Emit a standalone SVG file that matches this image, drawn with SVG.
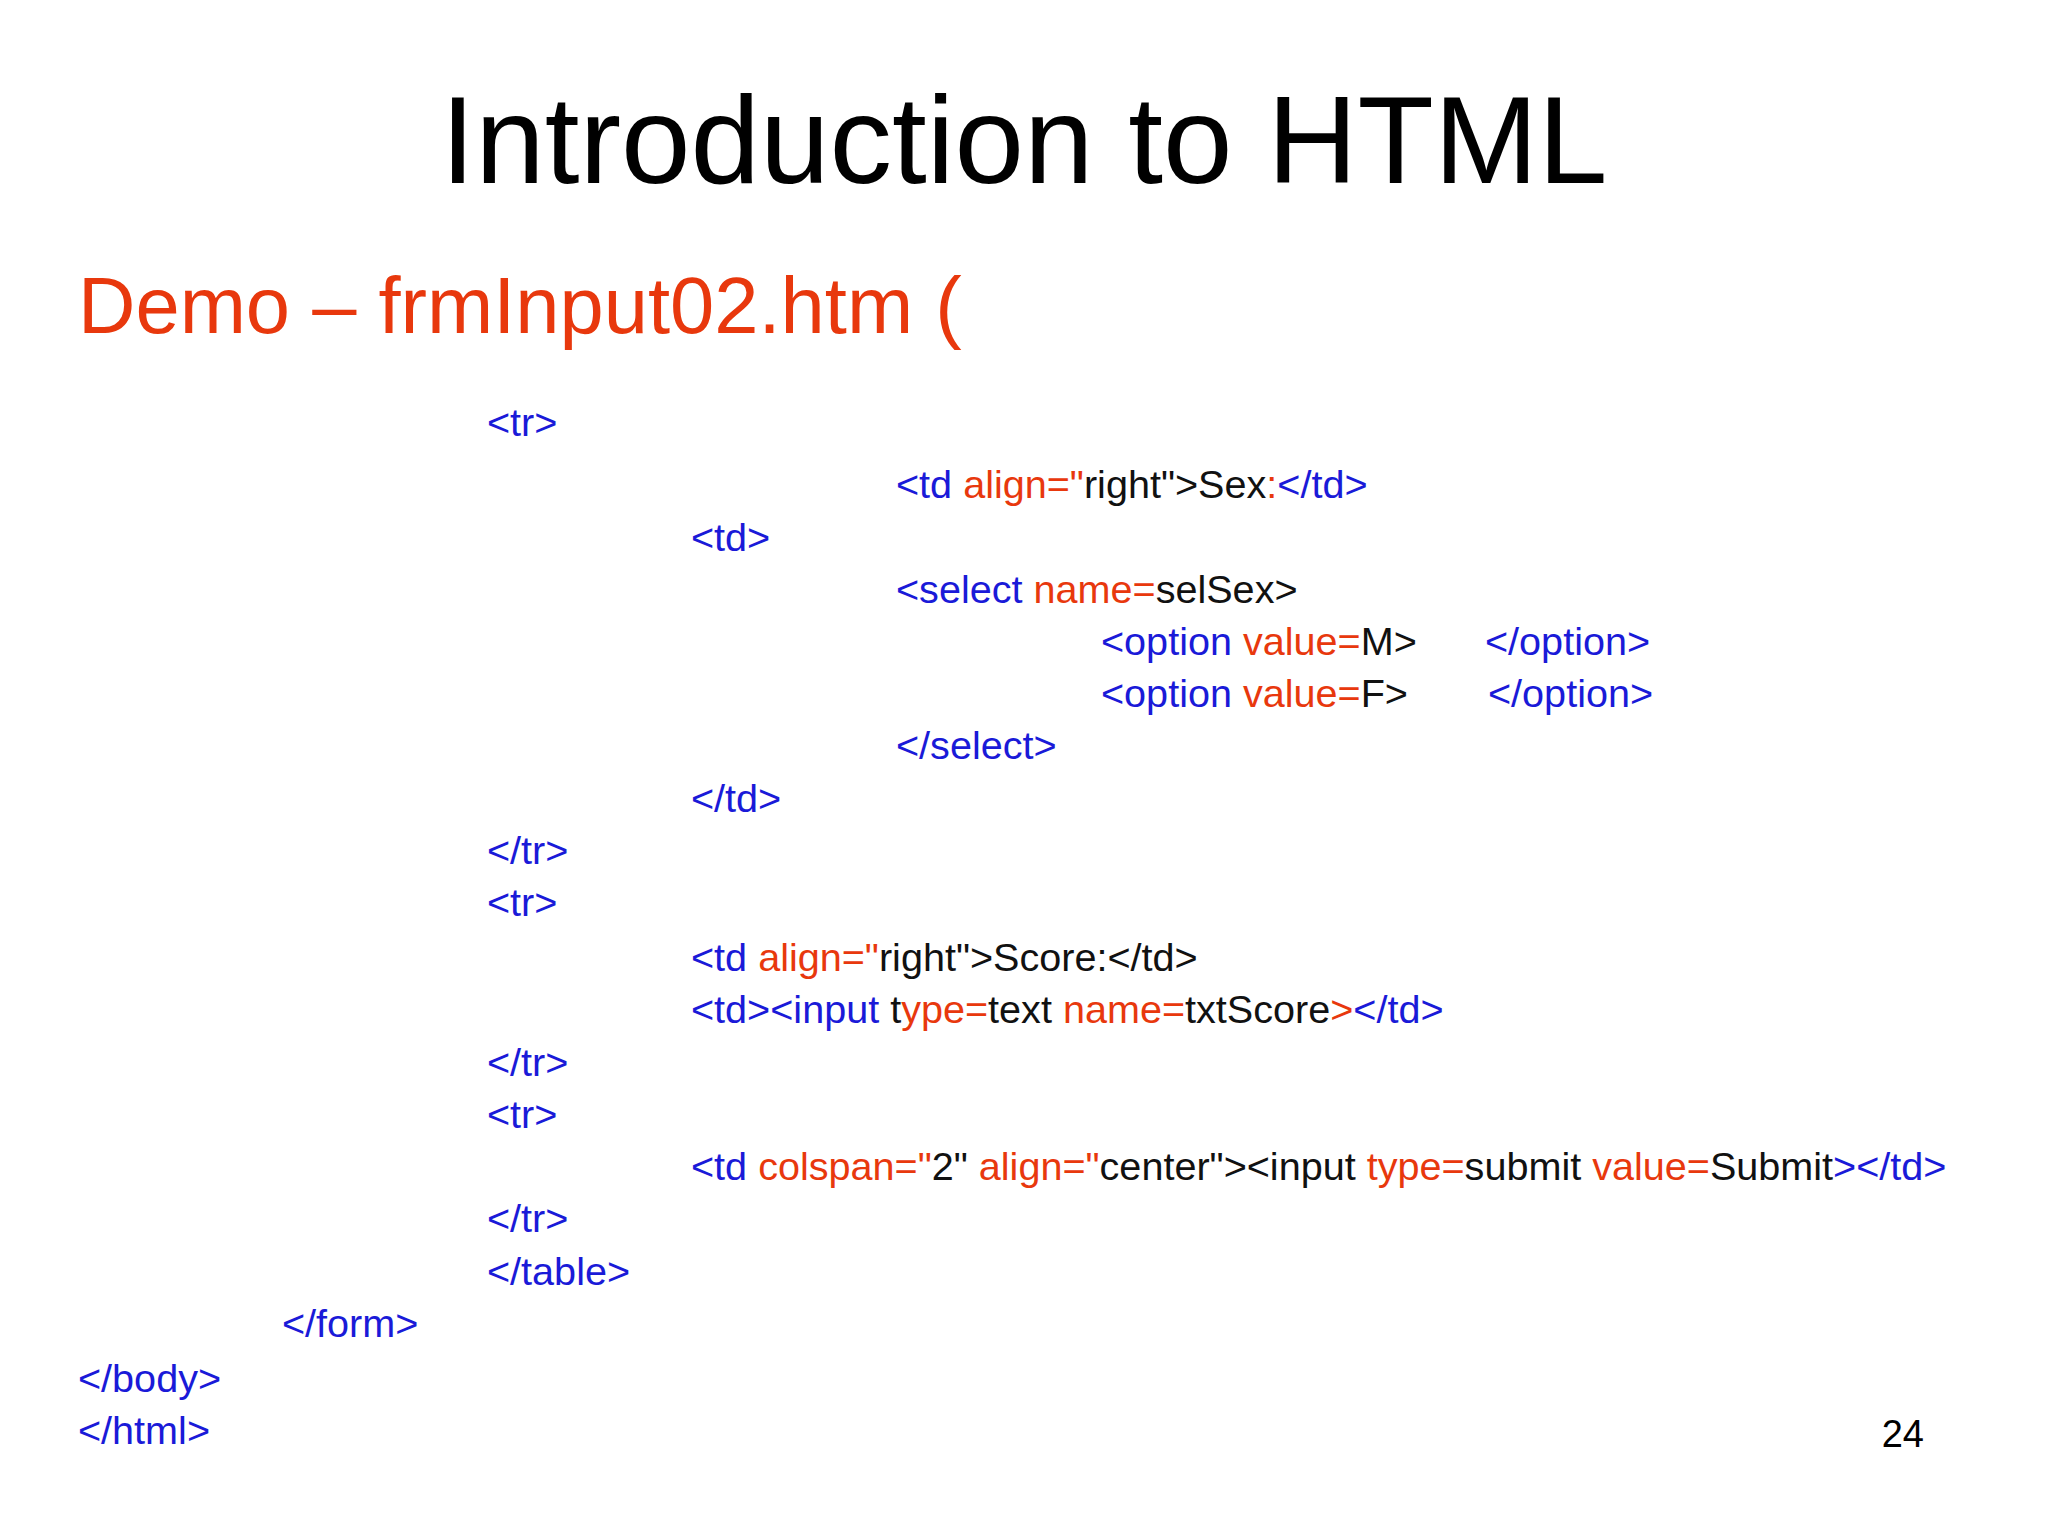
<svg xmlns="http://www.w3.org/2000/svg" width="2048" height="1536" viewBox="0 0 2048 1536">
<style>
text{font-family:"Liberation Sans",Arial,sans-serif}
.c{font-size:39.6px;fill:#1a1ad8}
.r{fill:#e8380d}
.k{fill:#111}
</style>
<rect width="2048" height="1536" fill="#fff"/>
<g id="title"><text x="1024" y="183" font-size="125" text-anchor="middle" fill="#000">Introduction to HTML</text></g>
<g id="subtitle"><text x="78" y="333" font-size="79.5" fill="#e8380d">Demo – frmInput02.htm (</text></g>
<g id="code">
<text class="c" x="487" y="436">&lt;tr&gt;</text>
<text class="c" x="896" y="498">&lt;td <tspan class="r">align="</tspan><tspan class="k">right"&gt;Sex</tspan><tspan class="r">:</tspan>&lt;/td&gt;</text>
<text class="c" x="691" y="551">&lt;td&gt;</text>
<text class="c" x="896" y="603">&lt;select <tspan class="r">name=</tspan><tspan class="k">selSex&gt;</tspan></text>
<text class="c" x="1101" y="655">&lt;option <tspan class="r">value=</tspan><tspan class="k">M&gt;</tspan></text>
<text class="c" x="1485" y="655">&lt;/option&gt;</text>
<text class="c" x="1101" y="707">&lt;option <tspan class="r">value=</tspan><tspan class="k">F&gt;</tspan></text>
<text class="c" x="1488" y="707">&lt;/option&gt;</text>
<text class="c" x="896" y="759">&lt;/select&gt;</text>
<text class="c" x="691" y="812">&lt;/td&gt;</text>
<text class="c" x="487" y="864">&lt;/tr&gt;</text>
<text class="c" x="487" y="916">&lt;tr&gt;</text>
<text class="c" x="691" y="971">&lt;td <tspan class="r">align="</tspan><tspan class="k">right"&gt;Score:&lt;/td&gt;</tspan></text>
<text class="c" x="691" y="1023">&lt;td&gt;&lt;input <tspan class="k">t</tspan><tspan class="r">ype=</tspan><tspan class="k">text </tspan><tspan class="r">name=</tspan><tspan class="k">txtScore</tspan><tspan class="r">&gt;</tspan>&lt;/td&gt;</text>
<text class="c" x="487" y="1076">&lt;/tr&gt;</text>
<text class="c" x="487" y="1128">&lt;tr&gt;</text>
<text class="c" x="691" y="1180">&lt;td <tspan class="r">colspan="</tspan><tspan class="k">2" </tspan><tspan class="r">align="</tspan><tspan class="k">center"&gt;&lt;input </tspan><tspan class="r">type=</tspan><tspan class="k">submit </tspan><tspan class="r">value=</tspan><tspan class="k">Submit</tspan>&gt;&lt;/td&gt;</text>
<text class="c" x="487" y="1232">&lt;/tr&gt;</text>
<text class="c" x="487" y="1285">&lt;/table&gt;</text>
<text class="c" x="282" y="1337">&lt;/form&gt;</text>
<text class="c" x="78" y="1392">&lt;/body&gt;</text>
<text class="c" x="78" y="1444">&lt;/html&gt;</text>
</g>
<g id="page"><text x="1924" y="1447" font-size="38" text-anchor="end" fill="#000">24</text></g>
</svg>
